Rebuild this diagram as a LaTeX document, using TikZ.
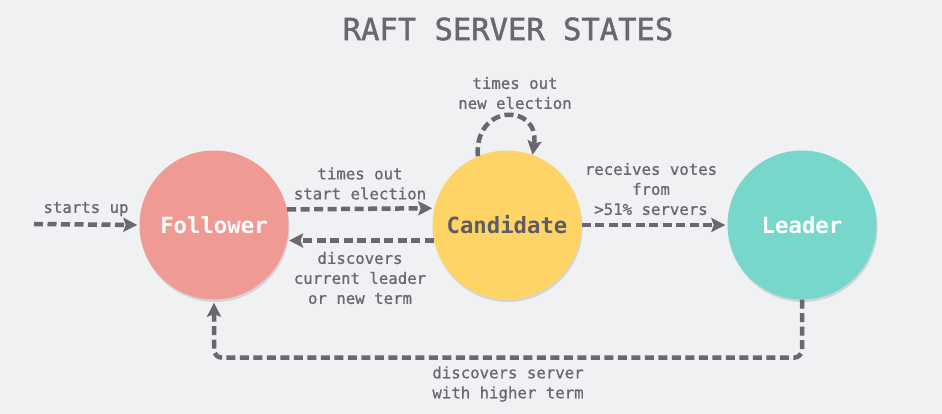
\documentclass[tikz,border=0pt]{standalone}
\usepackage{fontspec}
\setmonofont{DejaVu Sans Mono}
\newfontfamily\medmono{DejaVu Sans Mono}[FakeBold=0.9]
\newfontfamily\ttlmono{DejaVu Sans Mono}[FakeBold=1.4]
\usetikzlibrary{arrows.meta,shadows}
\definecolor{bg}{HTML}{F0F1F3}
\definecolor{ink}{HTML}{696871}
\definecolor{follow}{HTML}{F09A94}
\definecolor{cand}{HTML}{FDD465}
\definecolor{lead}{HTML}{78D7CB}
\definecolor{candtext}{HTML}{5E5D66}
\begin{document}
\begin{tikzpicture}[x=1pt,y=-1pt,
  flow/.style={draw=ink, line width=4.5pt, dash pattern=on 9pt off 4.5pt,
    -{Stealth[length=14pt,width=14pt,inset=2.5pt]}},
  state/.style={circle, minimum size=149pt, inner sep=0pt,
    font=\ttfamily\bfseries\fontsize{22.3}{26}\selectfont,
    drop shadow={shadow xshift=1pt,shadow yshift=-2.5pt,opacity=0.25}},
  lbl/.style={font=\medmono\fontsize{15.7}{20}\selectfont, text=ink, align=center, inner sep=0pt},
  ttl/.style={font=\ttlmono\fontsize{30.5}{34}\selectfont, text=ink, inner sep=0pt}]
\fill[bg] (0,0) rectangle (942,414);
\useasboundingbox (0,0) rectangle (942,414);

\node[ttl] (title) at (508,29) {RAFT SERVER STATES};

\node[state, fill=follow, text=white] (F) at (214,225) {Follower};
\node[state, fill=cand, text=candtext] (C) at (507,225) {Candidate};
\node[state, fill=lead, text=white] (L) at (802,225) {Leader};

\coordinate (start) at (34,224);
\draw[flow, shorten >=2pt] (start) -- (F.west);
\node[lbl] (lstart) at (86,209) {starts up};

\draw[flow, shorten >=2pt] (F.12.5) -- (C.167.5);
\node[lbl] (ltimeout) at (360,183.5) {times out\\start election};

\draw[flow, shorten >=2pt] (C.192) -- (F.-12);
\node[lbl] (ldisc) at (360,278) {discovers\\current leader\\or new term};

\draw[flow] (C.113) .. controls (474,103) and (540,103) .. (C.70);
\node[lbl] (lnew) at (515,93) {times out\\new election};

\draw[flow, shorten >=2pt] (C.east) -- (L.west);
\node[lbl] (lvotes) at (651,189) {receives votes\\from\\>51\% servers};

\draw[flow, rounded corners=8pt, shorten >=3pt] (L.south) -- ++(0,58) -| (F.south);
\node[lbl] (lhigher) at (508,384) {discovers server\\with higher term};
\end{tikzpicture}
\end{document}
